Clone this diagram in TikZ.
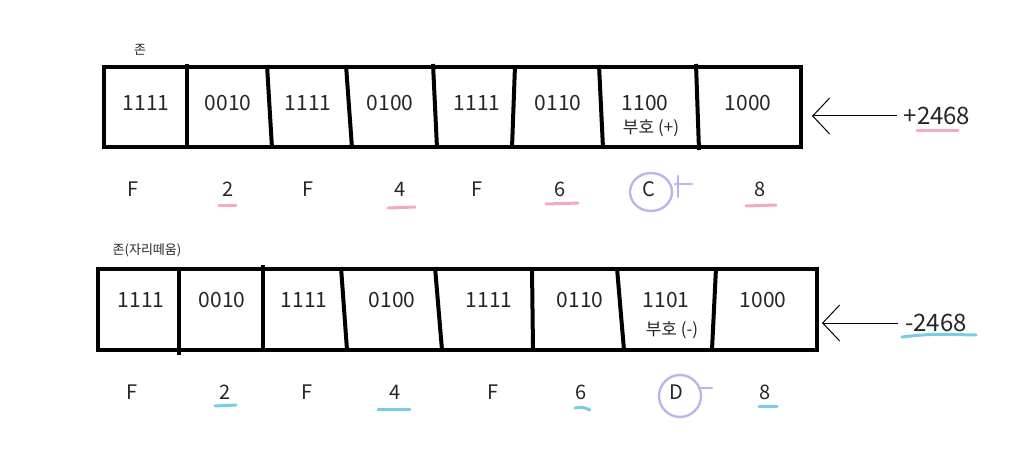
\documentclass[tikz,border=0pt]{standalone}
\usepackage{fontspec}
\setmainfont{Noto Sans CJK KR}
\usetikzlibrary{arrows.meta}
\definecolor{pinkmark}{RGB}{245,168,198}
\definecolor{bluemark}{RGB}{120,205,228}
\definecolor{purplemark}{RGB}{188,182,232}
\tikzset{frame/.style={line width=2pt},
  bits/.style={font=\fontsize{10.5}{12}\selectfont,text=black!85},
  hexd/.style={font=\fontsize{10}{12}\selectfont,text=black!85},
  small/.style={font=\fontsize{6.5}{8}\selectfont,text=black!85},
  signlbl/.style={font=\fontsize{8.5}{10}\selectfont,text=black!85},
  number/.style={font=\fontsize{12}{14}\selectfont,text=black!85},
  pointer/.style={line width=0.5pt,-{Straight Barb[length=8.5pt,width=18pt]}},
  pinkline/.style={pinkmark,line width=1.5pt,line cap=round},
  blueline/.style={bluemark,line width=1.5pt,line cap=round},
  ring/.style={purplemark,line width=1.2pt,line cap=round}}
\begin{document}
\begin{tikzpicture}[x=0.5pt,y=-0.5pt]
\useasboundingbox (0,0) rectangle (1024,465);
% positive number
\draw[frame] (104,67) rectangle (801,147);
\draw[frame] (187,64) -- (187,148);
\draw[frame] (267,65) -- (272,148);
\draw[frame] (346,65) -- (352,148);
\draw[frame] (433,64) -- (437,148);
\draw[frame] (515,66) -- (512,148);
\draw[frame] (599,65) -- (603,148);
\draw[frame] (696,64) -- (699,150);
\node[small] (zone1) at (140,50) {존};
\node[bits] (b11) at (146,103) {1111};
\node[bits] (b12) at (228,103) {0010};
\node[bits] (b13) at (308,103) {1111};
\node[bits] (b14) at (390,103) {0100};
\node[bits] (b15) at (477,103) {1111};
\node[bits] (b16) at (558,103) {0110};
\node[bits] (b17) at (645,103) {1100};
\node[signlbl] (sign1) at (651,128) {부호 (+)};
\node[bits] (b18) at (748,103) {1000};
\node[hexd] (h11) at (133,189) {F};
\node[hexd] (h12) at (228,189) {2};
\node[hexd] (h13) at (308,189) {F};
\node[hexd] (h14) at (400,189) {4};
\node[hexd] (h15) at (477,189) {F};
\node[hexd] (h16) at (560,189) {6};
\node[hexd] (h17) at (649,189) {C};
\node[hexd] (h18) at (760,189) {8};
\draw[pinkline] (219,206) -- (236,206);
\draw[pinkline] (388,208) -- (415,207);
\draw[pinkline] (546,204) -- (578,203);
\draw[pinkline] (746,206) -- (776,205);
\draw[ring] (651,192) ellipse (21 and 19);
\draw[ring] (678,176) -- (678,197);
\draw[ring] (675,184) -- (692,184);
\node[number] (plus) at (937,116) {+2468};
\draw[pinkline] (917,131) -- (958,131);
\coordinate (topin) at (812,116);
\draw[pointer] (plus.west) -- (topin);
% negative number
\draw[frame] (98,269) rectangle (817,350);
\draw[frame] (179,268) -- (179,355);
\draw[frame] (263,265) -- (263,350);
\draw[frame] (341,267) -- (347,350);
\draw[frame] (435,267) -- (442,350);
\draw[frame] (532,268) -- (533,350);
\draw[frame] (617,268) -- (624,350);
\draw[frame] (716,268) -- (712,350);
\node[small] (zone2) at (147,250) {존(자리떼움)};
\node[bits] (b21) at (141,300) {1111};
\node[bits] (b22) at (222,300) {0010};
\node[bits] (b23) at (304,300) {1111};
\node[bits] (b24) at (392,300) {0100};
\node[bits] (b25) at (489,300) {1111};
\node[bits] (b26) at (580,300) {0110};
\node[bits] (b27) at (666,300) {1101};
\node[signlbl] (sign2) at (672,330) {부호 (-)};
\node[bits] (b28) at (763,300) {1000};
\node[hexd] (h21) at (132,392) {F};
\node[hexd] (h22) at (225,392) {2};
\node[hexd] (h23) at (307,392) {F};
\node[hexd] (h24) at (395,392) {4};
\node[hexd] (h25) at (493,392) {F};
\node[hexd] (h26) at (581,392) {6};
\node[hexd] (h27) at (676,392) {D};
\node[hexd] (h28) at (765,392) {8};
\draw[blueline] (215,406) -- (236,405);
\draw[blueline] (378,409) -- (410,409);
\draw[blueline] (575,408) .. controls (583,407) .. (590,410);
\draw[blueline] (759,406) -- (777,406);
\draw[ring] (680,396) ellipse (21 and 21);
\draw[ring] (699,388) -- (712,388);
\node[number] (minus) at (936,323) {-2468};
\draw[blueline] (902,337) .. controls (930,334) .. (976,335);
\coordinate (botin) at (822,323);
\draw[pointer] (minus.west) -- (botin);
\end{tikzpicture}
\end{document}
